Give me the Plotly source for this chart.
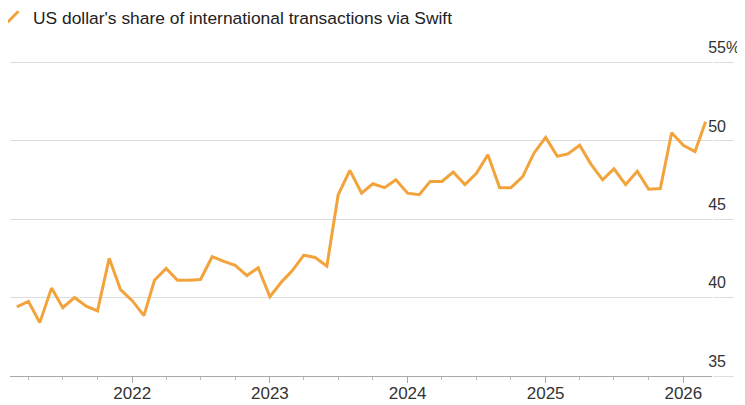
import plotly.graph_objects as go

# Monthly observations (first of month), Mar 2021 - Mar 2026
months = [
    "2021-03-01", "2021-04-01", "2021-05-01", "2021-06-01", "2021-07-01", "2021-08-01",
    "2021-09-01", "2021-10-01", "2021-11-01", "2021-12-01",
    "2022-01-01", "2022-02-01", "2022-03-01", "2022-04-01", "2022-05-01", "2022-06-01",
    "2022-07-01", "2022-08-01", "2022-09-01", "2022-10-01", "2022-11-01", "2022-12-01",
    "2023-01-01", "2023-02-01", "2023-03-01", "2023-04-01", "2023-05-01", "2023-06-01",
    "2023-07-01", "2023-08-01", "2023-09-01", "2023-10-01", "2023-11-01", "2023-12-01",
    "2024-01-01", "2024-02-01", "2024-03-01", "2024-04-01", "2024-05-01", "2024-06-01",
    "2024-07-01", "2024-08-01", "2024-09-01", "2024-10-01", "2024-11-01", "2024-12-01",
    "2025-01-01", "2025-02-01", "2025-03-01", "2025-04-01", "2025-05-01", "2025-06-01",
    "2025-07-01", "2025-08-01", "2025-09-01", "2025-10-01", "2025-11-01", "2025-12-01",
    "2026-01-01", "2026-02-01", "2026-03-01",
]

usd_share = [
    39.4, 39.75, 38.4, 40.6, 39.35, 40.0, 39.45, 39.15, 42.5, 40.5,
    39.8, 38.85, 41.1, 41.85, 41.1, 41.1, 41.15, 42.6, 42.3, 42.05, 41.4, 41.9,
    40.05, 41.0, 41.7, 42.7, 42.55, 42.0, 46.55, 48.1, 46.65, 47.25, 47.0, 47.5,
    46.65, 46.55, 47.4, 47.4, 48.0, 47.2, 47.9, 49.1, 47.0, 47.0, 47.7, 49.2,
    50.2, 49.0, 49.15, 49.7, 48.5, 47.5, 48.2, 47.2, 48.05, 46.9, 46.95, 50.5,
    49.7, 49.3, 51.2,
]

series_name = "US dollar's share of international transactions via Swift"

y_tickvals = [35, 40, 45, 50, 55]
y_ticktext = ["35", "40", "45", "50", "55%"]

orange = "#F3A33B"
grid_color = "#dddddd"
axis_color = "#a8a8a8"
font_family = "Liberation Sans, Arial, Helvetica, sans-serif"

fig = go.Figure()

fig.add_trace(go.Scatter(
    x=months, y=usd_share, mode="lines",
    line=dict(color=orange, width=3),
    showlegend=False, hoverinfo="x+y",
))

# legend entry with a slanted stroke as its key
fig.add_trace(go.Scatter(
    x=[None], y=[None], mode="markers", name=series_name,
    marker=dict(symbol="line-ne", size=11, color=orange,
                line=dict(color=orange, width=3)),
    showlegend=True,
))

fig.update_layout(
    width=737, height=397,
    margin=dict(l=2, r=33, t=51, b=29, autoexpand=False),
    paper_bgcolor="white", plot_bgcolor="white",
    font=dict(family=font_family, size=17, color="#333333"),
    legend=dict(
        orientation="h", x=-0.0242, xanchor="left", y=1.1325, yanchor="middle",
        font=dict(size=17.4, color="#222222"), bgcolor="rgba(0,0,0,0)",
    ),
    xaxis=dict(
        type="date",
        range=["2021-02-11", "2026-03-18"],
        tick0="2022-01-01", dtick="M12", tickformat="%Y",
        ticks="outside", ticklen=6, tickcolor=axis_color, tickwidth=1,
        ticklabelstandoff=-4,
        showline=True, linecolor=axis_color, linewidth=1,
        showgrid=False, zeroline=False,
        tickfont=dict(size=17, color="#333333"),
        minor=dict(tick0="2021-01-01", dtick="M3", ticks="outside", ticklen=3,
                   tickcolor="#bbbbbb", showgrid=False),
    ),
    yaxis=dict(
        side="right", range=[35, 55.2],
        tickvals=y_tickvals, ticktext=y_ticktext,
        ticklabelposition="outside top",
        ticks="outside", ticklen=21, tickcolor=grid_color, tickwidth=1,
        ticklabelstandoff=-8, ticklabelshift=-3,
        showgrid=True, gridcolor=grid_color, gridwidth=1,
        zeroline=False, showline=False,
        tickfont=dict(size=16, color="#333333"),
    ),
)

fig.write_html("out.html")
